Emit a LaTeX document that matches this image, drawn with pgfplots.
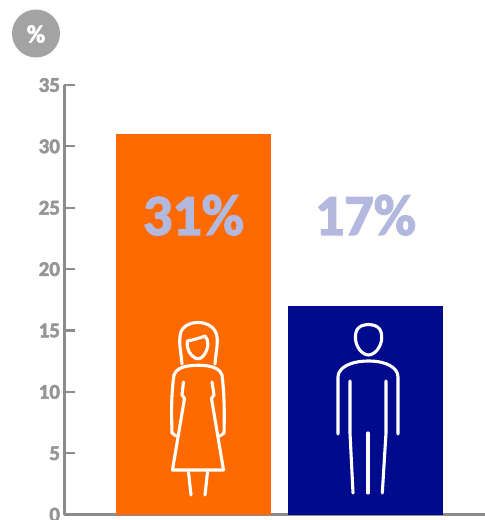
\documentclass[border=0pt]{standalone}
\usepackage{fontspec}
\setmainfont{Carlito}[BoldFeatures={FakeBold=2.4}]
\usepackage{pgfplots}
\pgfplotsset{compat=1.18}
\definecolor{axgray}{HTML}{8C8C8C}
\definecolor{lblgray}{HTML}{959595}
\definecolor{circgray}{HTML}{A3A3A3}
\definecolor{fem}{HTML}{FF6A00}
\definecolor{mal}{HTML}{000A8C}
\definecolor{pct}{HTML}{B3B8DE}
\begin{document}
\begin{tikzpicture}[x=1pt,y=1pt]
\path[use as bounding box] (0,0) rectangle (485,520);
\begin{axis}[
  at={(64.5pt,5.3pt)}, anchor=south west,
  scale only axis, width=420.5pt, height=429.7pt,
  xmin=-0.75, xmax=1.6948, ymin=0, ymax=35,
  ytick={0,5,...,35}, xtick=\empty,
  axis x line=bottom, axis y line=left,
  axis line style={axgray,line width=2.8pt,-},
  tick style={axgray,line width=2.2pt},
  ytick align=inside, ytick pos=left,
  major tick length=10.5pt,
  y tick label style={font=\fontsize{21}{21}\selectfont\bfseries,text=lblgray,/pgf/number format/assume math mode=true,xshift=-1pt},
  clip=false,
]
\addplot[ybar,bar width=155pt,fill=fem,draw=none] coordinates {(0,31)};
\addplot[ybar,bar width=155pt,fill=mal,draw=none] coordinates {(1,17)};
\node[text=pct,font=\fontsize{58}{58}\selectfont\bfseries] at (axis cs:0,24.4) {31\%};
\node[text=pct,font=\fontsize{58}{58}\selectfont\bfseries] at (axis cs:1,24.4) {17\%};
\end{axis}
\begin{scope}[shift={(0,520)},y=-1pt,x=1pt,line cap=round,line join=round]
\fill[circgray] (36,33.5) circle (24);
\node[text=white,font=\fontsize{25}{25}\selectfont\bfseries] at (36,34) {\%};
% woman
\begin{scope}[white,line width=3.1pt]
\draw (182,364) .. controls (181,352) and (179,344) .. (180,337) .. controls (180,328) and (188,322.5) .. (198,322.5) .. controls (208,322.5) and (216,328) .. (217,337) .. controls (218,344) and (216,352) .. (215,364);
\draw (187.5,341) .. controls (193,340) and (200,338) .. (205,336) .. controls (209,340) and (209,348) .. (204,355) .. controls (201,359) and (198,359.5) .. (195,358) .. controls (190,355) and (186,349) .. (187.5,341) -- cycle;
\draw (176,436) -- (172,433) .. controls (171.5,415) and (171,395) .. (174,375) .. controls (176,369) and (182,367) .. (188,366) .. controls (195,365) and (202,365) .. (208,366) .. controls (214,367) and (220,369) .. (222,375) .. controls (224.5,395) and (224.5,415) .. (224,433) -- (220,436);
\draw (183.5,382) -- (182,395) -- (184.5,398.5) -- (172.5,470) -- (223.5,470) -- (211.5,398.5) -- (214,395) -- (212,382);
\draw (188.5,472) -- (191,495);
\draw (207.5,472) -- (205,495);
\end{scope}
% man
\begin{scope}[white,line width=3.1pt]
\draw (355.5,339) .. controls (355,330) and (358,325) .. (368.5,324.5) .. controls (379,325) and (382,330) .. (381.7,339) .. controls (381,346) and (376,354.5) .. (368.5,355) .. controls (361,354.5) and (356,346) .. (355.5,339) -- cycle;
\draw (338,434) -- (338,377) .. controls (338,368) and (350,361) .. (368.5,361) .. controls (387,361) and (398,368) .. (398,377) -- (398,434);
\draw (350,381) -- (350,433) -- (353,493);
\draw (386,381) -- (386,433) -- (382.3,493);
\draw (368,433) -- (368,493);
\end{scope}
\end{scope}
\end{tikzpicture}
\end{document}
